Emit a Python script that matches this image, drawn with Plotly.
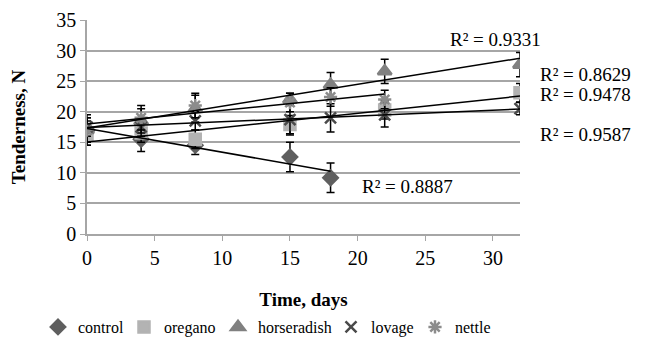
import numpy as np
import plotly.graph_objects as go

days_control = [0, 4, 8, 15, 18]
control = [17.0, 15.5, 14.5, 12.6, 9.2]
control_err = [1.5, 2.0, 1.5, 2.4, 2.4]

days_oregano = [0, 4, 8, 15, 22, 32]
oregano = [16.0, 16.5, 15.5, 17.9, 20.3, 23.1]
oregano_err = [1.5, 1.5, 1.5, 1.5, 1.5, 1.5]

days_horseradish = [0, 4, 8, 15, 18, 22, 32]
horseradish = [17.0, 18.5, 20.5, 22.0, 24.4, 26.6, 27.7]
horseradish_err = [2.0, 2.0, 2.2, 1.0, 2.0, 2.0, 2.0]

days_lovage = [0, 4, 8, 15, 18, 22, 32]
lovage = [17.5, 17.5, 18.5, 18.7, 19.0, 19.5, 20.5]
lovage_err = [1.5, 1.5, 1.5, 2.5, 2.3, 2.0, 1.0]

days_nettle = [0, 4, 8, 15, 18, 22]
nettle = [17.0, 19.0, 21.0, 21.5, 22.4, 22.0]
nettle_err = [2.5, 2.0, 2.0, 1.5, 1.5, 1.5]

r2_labels = ["R² = 0.9331", "R² = 0.8629", "R² = 0.9478", "R² = 0.9587", "R² = 0.8887"]

FONT = "Liberation Serif, Times New Roman, serif"

series = [
    ("control", days_control, control, control_err, "diamond", "#5f5f5f", 11),
    ("oregano", days_oregano, oregano, oregano_err, "square", "#b3b3b3", 11),
    ("horseradish", days_horseradish, horseradish, horseradish_err, "triangle-up", "#808080", 12),
    ("lovage", days_lovage, lovage, lovage_err, "x-thin-open", "#4a4a4a", 11),
    ("nettle", days_nettle, nettle, nettle_err, "asterisk-open", "#8c8c8c", 11),
]

legend_ids = ["legend", "legend2", "legend3", "legend4", "legend5"]
legend_sym_x = [57, 143, 237, 350, 434]

fig = go.Figure()

for (name, xs, ys, es, sym, col, size), lid in zip(series, legend_ids):
    fig.add_trace(go.Scatter(
        x=xs, y=ys, mode="markers", name=name, legend=lid,
        marker=dict(symbol=sym, color=col, size=size,
                    line=dict(color=col, width=2.5)),
        error_y=dict(type="data", array=es, visible=True, color="black",
                     thickness=1.5, width=4),
    ))

for name, xs, ys, es, sym, col, size in series:
    k, b = np.polyfit(xs, ys, 1)
    xx = [min(xs), max(xs)]
    fig.add_trace(go.Scatter(
        x=xx, y=[k * v + b for v in xx], mode="lines",
        line=dict(color="black", width=1.5), showlegend=False, hoverinfo="skip",
    ))

ann_pos = [(0.834, 0.907), (1.042, 0.743), (1.042, 0.650), (1.042, 0.467), (0.630, 0.220)]
for txt, (ax_, ay_) in zip(r2_labels, ann_pos):
    fig.add_annotation(x=ax_, y=ay_, xref="paper", yref="paper", text=txt,
                       showarrow=False, xanchor="left", yanchor="middle",
                       font=dict(family=FONT, size=19, color="black"))

legend_layout = {}
for lid, sx in zip(legend_ids, legend_sym_x):
    legend_layout[lid] = dict(
        orientation="h", xref="container", yref="container",
        x=(sx - 27) / 645, xanchor="left", y=1 - 319 / 338, yanchor="middle",
        font=dict(family=FONT, size=16), itemwidth=30,
        bgcolor="rgba(0,0,0,0)", borderwidth=0)

fig.update_layout(
    width=645, height=338,
    margin=dict(l=79, r=133, t=12, b=112, autoexpand=False),
    paper_bgcolor="white", plot_bgcolor="white",
    font=dict(family=FONT, size=16, color="black"),
    showlegend=True,
    **legend_layout,
)
fig.update_xaxes(range=[0, 32], dtick=5, tick0=0, showgrid=False,
                 showline=True, linecolor="#a6a6a6", linewidth=1.5,
                 ticks="outside", tickcolor="#a6a6a6", ticklen=5,
                 tickfont=dict(family=FONT, size=20), zeroline=False,
                 title=dict(text="<b>Time, days</b>", font=dict(family=FONT, size=19),
                            standoff=29))
fig.update_yaxes(range=[0, 35], dtick=5, showgrid=True, gridcolor="#a6a6a6",
                 gridwidth=1.5, showline=True, linecolor="#a6a6a6", linewidth=1.5,
                 ticks="outside", tickcolor="#a6a6a6", ticklen=5,
                 tickfont=dict(family=FONT, size=20), zeroline=False,
                 title=dict(text="<b>Tenderness, N</b>", font=dict(family=FONT, size=19),
                            standoff=30))

fig.write_html("out.html")
